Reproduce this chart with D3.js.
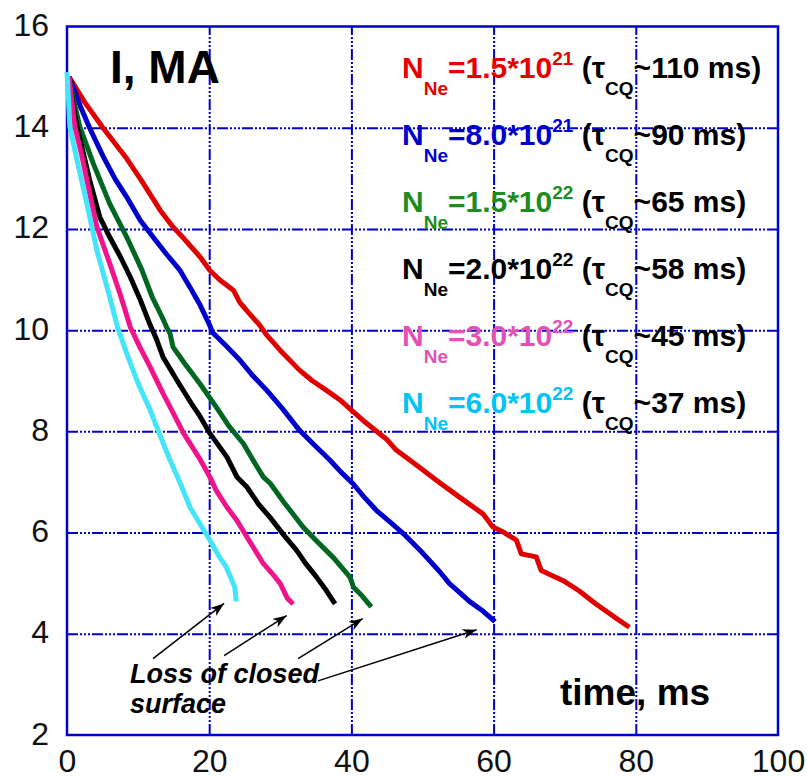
<!DOCTYPE html>
<html>
<head>
<meta charset="utf-8">
<script src="https://cdn.jsdelivr.net/npm/d3@7"></script>
<style>
  html, body { margin: 0; padding: 0; background: #fff; }
  svg { display: block; }
  text { font-family: "Liberation Sans", Arial, Helvetica, sans-serif; }
</style>
</head>
<body>
<svg id="chart" width="807" height="779"></svg>
<script>
// Plasma current decay during the current quench for different neon quantities
const xTickValues = [0, 20, 40, 60, 80, 100];
const yTickValues = [2, 4, 6, 8, 10, 12, 14, 16];

// time (ms), current (MA)
const seriesNe15e21 = [[0.3,15.0],[0.7,14.91],[2.5,14.5],[5.1,13.99],[8.4,13.39],[10.5,12.95],[13.1,12.37],[14.9,12.04],[16.5,11.8],[18.7,11.45],[20.1,11.18],[21.5,10.99],[23.4,10.79],[24.3,10.55],[25.5,10.35],[27.1,10.10],[28.1,9.90],[30.0,9.60],[32.7,9.21],[34.5,9.00],[36.5,8.81],[38.4,8.62],[40.0,8.42],[41.6,8.22],[44.9,7.85],[46.3,7.63],[49.0,7.35],[52.0,7.03],[55.0,6.72],[58.5,6.37],[59.9,6.11],[61.5,6.0],[63.2,5.85],[63.9,5.58],[66.0,5.52],[66.7,5.25],[69.8,5.05],[72.0,4.85],[74.4,4.59],[77.0,4.33],[79.1,4.13]];
const seriesNe80e21 = [[0.3,15.0],[0.6,14.9],[1.8,14.45],[3.2,13.99],[5.1,13.43],[6.8,12.98],[8.4,12.63],[10.3,12.17],[12.1,11.84],[14.0,11.5],[15.9,11.18],[17.5,10.8],[18.7,10.5],[19.9,10.15],[20.5,9.95],[22.3,9.7],[24.3,9.41],[26.0,9.12],[28.1,8.81],[30.3,8.45],[32.7,8.02],[35.0,7.7],[37.0,7.43],[38.5,7.2],[40.2,6.97],[41.8,6.7],[43.5,6.44],[45.5,6.2],[47.3,5.98],[50.0,5.6],[52.4,5.23],[53.8,4.99],[55.2,4.82],[56.6,4.64],[58.5,4.45],[60.2,4.24]];
const seriesNe15e22 = [[0.3,15.0],[1.0,14.5],[1.8,14.02],[3.7,13.29],[6.0,12.50],[8.4,11.84],[10.5,11.2],[12.0,10.65],[13.4,10.25],[14.0,10.06],[14.5,9.93],[14.9,9.67],[16.5,9.35],[18.7,8.94],[21.0,8.48],[22.8,8.1],[24.8,7.76],[26.3,7.4],[27.6,7.10],[28.6,6.97],[30.5,6.6],[33.2,6.11],[35.0,5.85],[37.5,5.5],[39.8,5.12],[40.3,4.92],[41.5,4.75],[42.8,4.53]];
const seriesNe20e22 = [[0.3,15.0],[0.8,14.5],[1.4,14.02],[2.3,13.5],[3.2,12.96],[4.6,12.24],[6.0,11.84],[7.5,11.45],[8.9,11.05],[10.3,10.6],[11.7,10.10],[12.5,9.85],[13.5,9.47],[15.5,9.0],[17.5,8.55],[18.7,8.3],[20.1,7.96],[22.5,7.49],[23.9,7.10],[25.3,6.90],[27.0,6.55],[28.5,6.31],[30.5,5.95],[32.3,5.65],[33.5,5.4],[35.1,5.12],[36.5,4.85],[37.7,4.59]];
const seriesNe30e22 = [[0.3,15.0],[0.7,14.5],[1.1,14.02],[2.0,13.5],[2.8,12.96],[4.2,12.04],[6.0,11.32],[7.5,10.7],[8.9,10.06],[10.3,9.65],[11.7,9.27],[13.5,8.75],[14.8,8.4],[16.4,7.96],[18.7,7.45],[20.1,7.10],[21.0,6.83],[22.5,6.5],[23.9,6.24],[25.8,5.8],[27.6,5.39],[28.8,5.2],[30.0,4.99],[31.0,4.7],[31.8,4.59]];
const seriesNe60e22 = [[0.0,15.1],[0.2,14.6],[0.4,14.02],[1.4,13.36],[2.8,12.50],[4.2,11.58],[6.0,10.66],[7.1,10.06],[8.5,9.5],[10.0,8.95],[11.7,8.42],[13.0,7.95],[14.5,7.43],[16.0,6.95],[17.3,6.50],[18.8,6.15],[20.1,5.85],[21.3,5.55],[22.4,5.32],[23.6,4.92],[23.8,4.64]];

// legend contents
const legendMantissa = ["1.5", "8.0", "1.5", "2.0", "3.0", "6.0"];
const legendExponent = ["21", "21", "22", "22", "22", "22"];
const legendTauCQ = ["110", "90", "65", "58", "45", "37"];
const legendTextColors = ["#e60000", "#0000cc", "#1e8c1e", "#000000", "#e052b4", "#00c4f4"];
const lineColors = ["#e00000", "#0000cc", "#006622", "#000000", "#f0148c", "#44e4fa"];
const allSeries = [seriesNe15e21, seriesNe80e21, seriesNe15e22, seriesNe20e22, seriesNe30e22, seriesNe60e22];

// "Loss of closed surface" arrows: [fromTime, fromCurrent, toTime, toCurrent]
const lossArrows = [
  [12.1, 3.51, 22.1, 4.60],
  [22.1, 3.57, 30.9, 4.36],
  [32.5, 3.51, 41.6, 4.30],
  [35.3, 3.07, 57.6, 4.08]
];

const svg = d3.select("#chart");
const x = d3.scaleLinear().domain([0, 100]).range([67, 778]);
const y = d3.scaleLinear().domain([2, 16]).range([735, 26.5]);
const gridBlue = "#0000cc";
const dash = "11,2,2,2,2,2,2,2";

// grid lines
const gx = svg.append("g")
  .attr("transform", `translate(0,${y(2)})`)
  .call(d3.axisBottom(x).tickValues([20, 40, 60, 80]).tickSize(-(y(2) - y(16))).tickFormat(""));
gx.select(".domain").remove();
gx.selectAll("line").attr("stroke", gridBlue).attr("stroke-width", 2).attr("stroke-dasharray", dash);

const gy = svg.append("g")
  .attr("transform", `translate(${x(0)},0)`)
  .call(d3.axisLeft(y).tickValues([4, 6, 8, 10, 12, 14]).tickSize(-(x(100) - x(0))).tickFormat(""));
gy.select(".domain").remove();
gy.selectAll("line").attr("stroke", gridBlue).attr("stroke-width", 2).attr("stroke-dasharray", dash);

// frame
svg.append("rect")
  .attr("x", x(0)).attr("y", y(16))
  .attr("width", x(100) - x(0)).attr("height", y(2) - y(16))
  .attr("fill", "none").attr("stroke", gridBlue).attr("stroke-width", 2.5);

// tick labels
const ax = svg.append("g")
  .attr("transform", `translate(0,${y(2)})`)
  .call(d3.axisBottom(x).tickValues(xTickValues).tickSize(0).tickPadding(0).tickFormat(d3.format("d")));
ax.select(".domain").remove();
ax.selectAll("text")
  .attr("dy", null).attr("y", 37)
  .attr("font-size", 32).attr("fill", "#111")
  .style("font-family", "'Liberation Sans', Arial, sans-serif");

const ay = svg.append("g")
  .attr("transform", `translate(${x(0)},0)`)
  .call(d3.axisLeft(y).tickValues(yTickValues).tickSize(0).tickPadding(0).tickFormat(d3.format("d")));
ay.select(".domain").remove();
ay.selectAll("text")
  .attr("dy", null).attr("x", -18).attr("y", 9)
  .attr("font-size", 32).attr("fill", "#111")
  .style("font-family", "'Liberation Sans', Arial, sans-serif");

// current traces
const line = d3.line().x(d => x(d[0])).y(d => y(d[1]));
svg.append("g").selectAll("path")
  .data(allSeries)
  .join("path")
  .attr("d", line)
  .attr("fill", "none")
  .attr("stroke", (d, i) => lineColors[i])
  .attr("stroke-width", 5)
  .attr("stroke-linejoin", "round")
  .attr("stroke-linecap", "butt");

// axis titles inside the plot
svg.append("text")
  .attr("x", 110).attr("y", 83)
  .attr("font-size", 46).attr("font-weight", "bold").attr("fill", "#000")
  .text("I, MA");

svg.append("text")
  .attr("x", 560).attr("y", 705)
  .attr("font-size", 37).attr("font-weight", "bold").attr("fill", "#000")
  .text("time, ms");

// legend
const legend = svg.append("g").attr("font-weight", "bold");
legendMantissa.forEach((m, i) => {
  const t = legend.append("text")
    .attr("x", 402).attr("y", 78 + i * 67)
    .attr("font-size", 30);
  const c = legendTextColors[i];
  t.append("tspan").attr("fill", c).text("N");
  t.append("tspan").attr("fill", c).attr("font-size", 19).attr("dy", 17).text("Ne");
  t.append("tspan").attr("fill", c).attr("dy", -17).text("=" + m + "*10");
  t.append("tspan").attr("fill", c).attr("font-size", 19).attr("dy", -13).text(legendExponent[i]);
  t.append("tspan").attr("fill", "#000").attr("dy", 13).text("\u00a0(\u03c4");
  t.append("tspan").attr("fill", "#000").attr("font-size", 19).attr("dy", 17).text("CQ");
  t.append("tspan").attr("fill", "#000").attr("dy", -17).text("~" + legendTauCQ[i] + " ms)");
});

// annotation: loss of closed flux surface
svg.append("defs").append("marker")
  .attr("id", "arrowHead")
  .attr("viewBox", "0 0 14 10")
  .attr("refX", 14).attr("refY", 5)
  .attr("markerWidth", 14).attr("markerHeight", 10)
  .attr("markerUnits", "userSpaceOnUse")
  .attr("orient", "auto")
  .append("path")
  .attr("d", "M0,0 L14,5 L0,10 L4,5 Z")
  .attr("fill", "#000");

svg.append("g").selectAll("line")
  .data(lossArrows)
  .join("line")
  .attr("x1", d => x(d[0])).attr("y1", d => y(d[1]))
  .attr("x2", d => x(d[2])).attr("y2", d => y(d[3]))
  .attr("stroke", "#000").attr("stroke-width", 1.5)
  .attr("marker-end", "url(#arrowHead)");

const note = svg.append("text")
  .attr("font-size", 27).attr("font-weight", "bold").attr("font-style", "italic").attr("fill", "#000");
note.append("tspan").attr("x", 130).attr("y", 683).text("Loss of closed");
note.append("tspan").attr("x", 130).attr("y", 713).text("surface");
</script>
</body>
</html>
